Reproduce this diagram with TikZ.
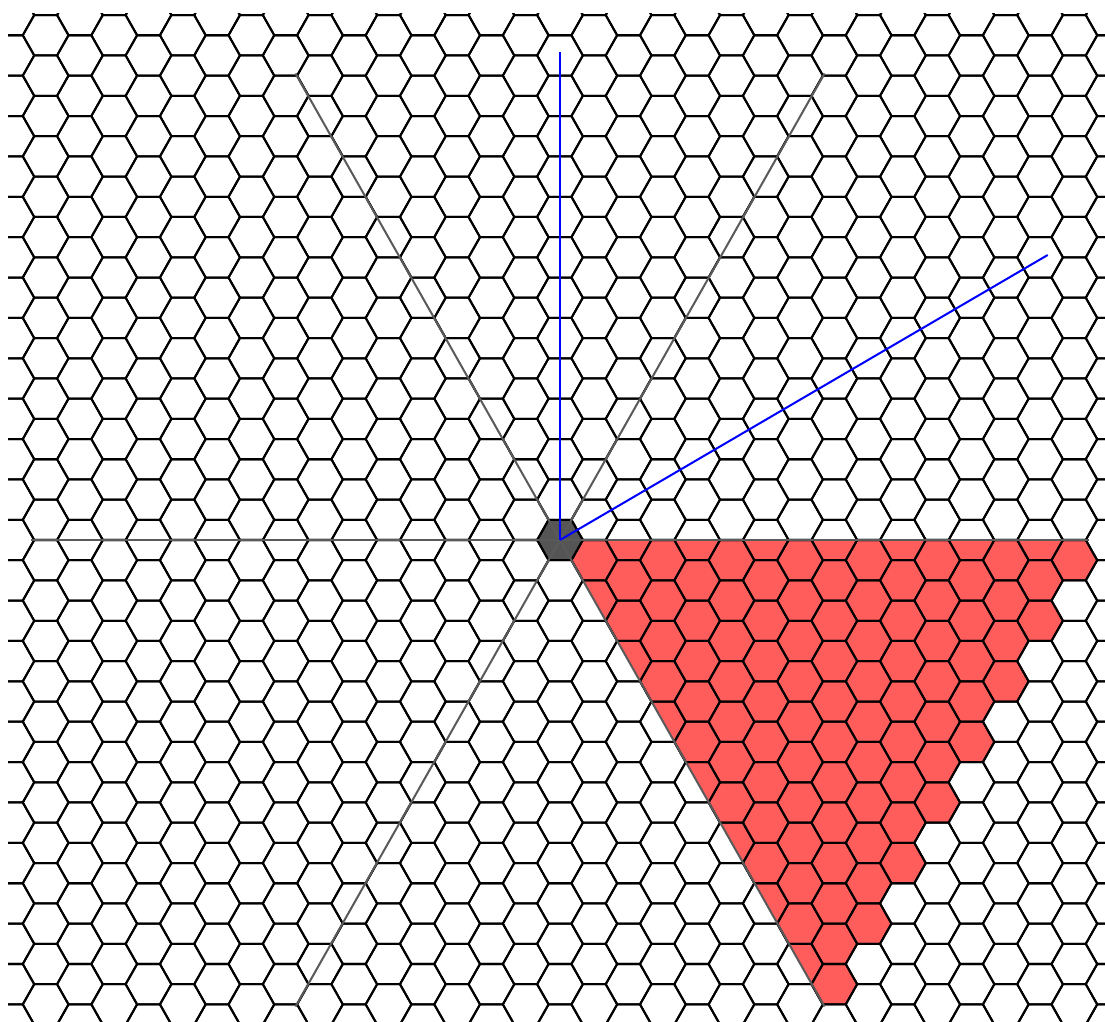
\documentclass[tikz,border=0pt]{standalone}
\usetikzlibrary{calc}
\definecolor{sectorred}{HTML}{FF5C5C}
\definecolor{centergray}{HTML}{555555}
\definecolor{raygray}{HTML}{5A5A5A}

% flat-topped cell around (#2,#3), in pixel units
\newcommand{\hexcell}[3][]{%
  \path[#1] ({#2-22.86},#3) -- ++(11.43,-20.19) -- ++(22.86,0) -- ++(11.43,20.19)
    -- ++(-11.43,20.19) -- ++(-22.86,0) -- cycle;}

\begin{document}
\begin{tikzpicture}[
  x=0.02cm, y=-0.02cm,
  gridline/.style={draw=black, line width=1.15pt, line join=round},
  sector/.style={fill=sectorred},
  centre/.style={fill=centergray},
  ray/.style={draw=raygray, line width=1.15pt},
  vec/.style={draw=blue, line width=1.15pt}
]
  \useasboundingbox (0,0) rectangle (1105,1021);
  \clip (0,0) rectangle (1105,1021);
  \coordinate (origin) at (560,540);

  % Sector cells, cut by the two rays
  \begin{scope}
    \clip (origin) -- (1200,540) -- (1200,1146) -- (903,1146) -- cycle;
    \foreach \q in {0,...,15} {
      \pgfmathtruncatemacro{\rlo}{-floor(\q/2)}
      \pgfmathtruncatemacro{\rhi}{min(\q,23-2*\q)}
      \foreach \r in {\rlo,...,\rhi} {
        \pgfmathsetmacro{\cx}{560+34.29*\q}
        \pgfmathsetmacro{\cy}{540+40.38*(\r+0.5*\q)}
        \hexcell[sector]{\cx}{\cy}
      }
    }
  \end{scope}

  % Centre cell
  \hexcell[centre]{560}{540}

  % Grid
  \begin{scope}
    \clip (8,13) rectangle (1105,1021);
    \foreach \k in {-16,...,16} {
      \foreach \n in {-14,...,13} {
        \pgfmathsetmacro{\cx}{560+34.29*\k}
        \pgfmathsetmacro{\cy}{540+40.38*(\n+0.5*mod(abs(\k),2))}
        \hexcell[gridline]{\cx}{\cy}
      }
    }
  \end{scope}

  % Rays
  \foreach \a/\name in {0/ray0, 60/ray60, 120/ray120, 180/ray180, 240/ray240, 300/ray300} {
    \coordinate (\name) at ({560+529*cos(\a)}, {540-538.7*sin(\a)});
    \draw[ray] (origin) -- (\name);
  }

  % Vectors
  \coordinate (vup) at (560,52);
  \coordinate (vdiag) at (1047.7,255);
  \draw[vec] (origin) -- (vup);
  \draw[vec] (origin) -- (vdiag);
\end{tikzpicture}
\end{document}
